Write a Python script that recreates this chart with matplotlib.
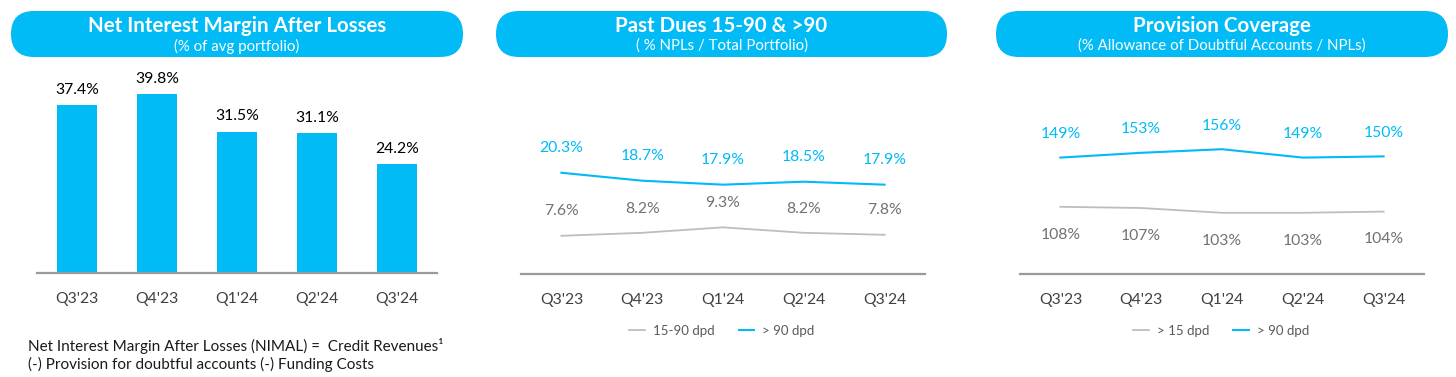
import matplotlib

matplotlib.use("Agg")
import matplotlib.pyplot as plt
from matplotlib.lines import Line2D
from matplotlib.patches import FancyBboxPatch

plt.rcParams["font.family"] = ["Lato", "DejaVu Sans"]

CYAN = "#00BBF6"
GREY_LINE = "#BDBDBD"
GREY_TXT = "#767171"
TICK_TXT = "#404040"
AXIS = "#9A9A9A"

quarters = ["Q3'23", "Q4'23", "Q1'24", "Q2'24", "Q3'24"]

nimal = [37.4, 39.8, 31.5, 31.1, 24.2]

pd_15_90 = [7.6, 8.2, 9.3, 8.2, 7.8]
pd_90 = [20.3, 18.7, 17.9, 18.5, 17.9]

cov_15 = [108, 107, 103, 103, 104]
cov_90 = [149, 153, 156, 149, 150]

W, H = 1456, 377
fig = plt.figure(figsize=(W / 100, H / 100), dpi=100)
fig.patch.set_facecolor("white")

# background axes in pixel coords for headers / notes
bg = fig.add_axes([0, 0, 1, 1], zorder=0)
bg.set_xlim(0, W)
bg.set_ylim(H, 0)
bg.axis("off")

headers = [
    (11, 463, "Net Interest Margin After Losses", "(% of avg portfolio)"),
    (496, 947, "Past Dues 15-90 & >90", "( % NPLs / Total Portfolio)"),
    (996, 1448, "Provision Coverage", "(% Allowance of Doubtful Accounts / NPLs)"),
]
for x0, x1, title, sub in headers:
    bg.add_patch(
        FancyBboxPatch(
            (x0, 11), x1 - x0, 46,
            boxstyle="round,pad=0,rounding_size=23",
            facecolor=CYAN, edgecolor="none",
        )
    )
    cx = (x0 + x1) / 2
    bg.text(cx, 26, title, ha="center", va="center", fontsize=14.8,
            fontweight="bold", color="white")
    bg.text(cx, 46, sub, ha="center", va="center", fontsize=10.8, color="white")

bg.text(28, 346, "Net Interest Margin After Losses (NIMAL) =  Credit Revenues\u00b9",
        ha="left", va="center", fontsize=11, color="#1A1A1A")
bg.text(28, 364, "(-) Provision for doubtful accounts (-) Funding Costs",
        ha="left", va="center", fontsize=11, color="#1A1A1A")


def px_axes(x0, x1, y_bottom, y_top):
    return fig.add_axes([x0 / W, 1 - y_bottom / H, (x1 - x0) / W, (y_bottom - y_top) / H],
                        zorder=2)


def style(ax):
    ax.set_facecolor("none")
    for s in ["top", "right", "left"]:
        ax.spines[s].set_visible(False)
    ax.spines["bottom"].set_color(AXIS)
    ax.spines["bottom"].set_linewidth(1.6)
    ax.set_yticks([])
    ax.set_xlim(-0.5, 4.5)
    ax.set_xticks(range(len(quarters)))
    ax.set_xticklabels(quarters, fontsize=11.3, color=TICK_TXT)
    ax.tick_params(axis="x", length=0, pad=14)


xs = list(range(len(quarters)))

# panel 1 - bars
ax1 = px_axes(37, 437, 273, 71)
ax1.bar(xs, nimal, width=0.49, color=CYAN, zorder=2)
ax1.set_ylim(0, 45)
style(ax1)
for x, v in zip(xs, nimal):
    ax1.annotate(f"{v:.1f}%", (x, v), xytext=(0, 6), textcoords="offset points",
                 ha="center", va="bottom", fontsize=11.3, color="black")

# panel 2 - past dues
ax2 = px_axes(521, 925, 273.5, 75)
ax2.plot(xs, pd_15_90, color=GREY_LINE, lw=1.3)
ax2.plot(xs, pd_90, color=CYAN, lw=1.5)
ax2.set_ylim(0, 40)
style(ax2)
for x, v in zip(xs, pd_90):
    ax2.annotate(f"{v:.1f}%", (x, v), xytext=(0, 18), textcoords="offset points",
                 ha="center", va="center", fontsize=11.3, color=CYAN)
for x, v in zip(xs, pd_15_90):
    ax2.annotate(f"{v:.1f}%", (x, v), xytext=(0, 17.5), textcoords="offset points",
                 ha="center", va="center", fontsize=11.3, color=GREY_TXT)
ax2.legend(
    handles=[Line2D([], [], color=GREY_LINE, lw=1.3, label="15-90 dpd"),
             Line2D([], [], color=CYAN, lw=1.5, label="> 90 dpd")],
    loc="center", bbox_to_anchor=(722, 331), bbox_transform=bg.transData,
    ncol=2, frameon=False, fontsize=9.5, handlelength=1.2, handletextpad=0.6,
    columnspacing=1.8, labelcolor="#595959",
)

# panel 3 - coverage
ax3 = px_axes(1020, 1424, 274, 74)
ax3.plot(xs, cov_15, color=GREY_LINE, lw=1.3)
ax3.plot(xs, cov_90, color=CYAN, lw=1.5)
ax3.set_ylim(52, 52 + 200 / 1.2)
style(ax3)
for x, v in zip(xs, cov_90):
    ax3.annotate(f"{v}%", (x, v), xytext=(0, 17), textcoords="offset points",
                 ha="center", va="center", fontsize=11.3, color=CYAN)
for x, v in zip(xs, cov_15):
    ax3.annotate(f"{v}%", (x, v), xytext=(0, -20), textcoords="offset points",
                 ha="center", va="center", fontsize=11.3, color=GREY_TXT)
ax3.legend(
    handles=[Line2D([], [], color=GREY_LINE, lw=1.3, label="> 15 dpd"),
             Line2D([], [], color=CYAN, lw=1.5, label="> 90 dpd")],
    loc="center", bbox_to_anchor=(1221, 331), bbox_transform=bg.transData,
    ncol=2, frameon=False, fontsize=9.5, handlelength=1.2, handletextpad=0.6,
    columnspacing=1.8, labelcolor="#595959",
)

fig.savefig("out.png", dpi=100, facecolor="white")
